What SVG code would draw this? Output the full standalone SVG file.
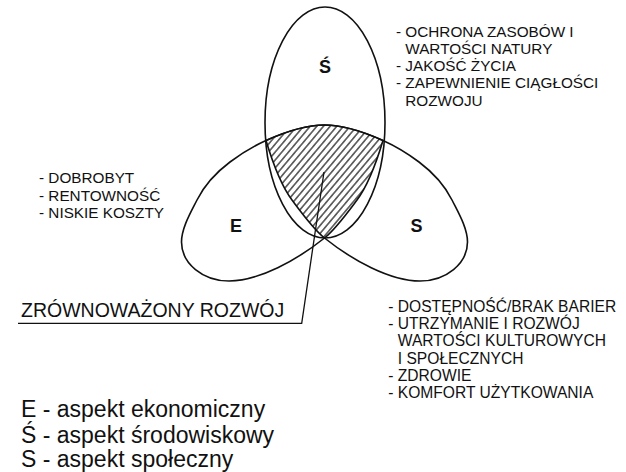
<svg xmlns="http://www.w3.org/2000/svg" width="626" height="472" viewBox="0 0 626 472">
  <style>
    .ell { fill: none; stroke: #111; stroke-width: 1.6; stroke-linejoin: round; }
    .lbl { font-family: "Liberation Sans", Arial, sans-serif; font-weight: bold; font-size: 18px; fill: #111; text-anchor: middle; }
    .lst { font-family: "Liberation Sans", Arial, sans-serif; font-size: 15.3px; fill: #111; }
    .lst2 { font-family: "Liberation Sans", Arial, sans-serif; font-size: 15.6px; fill: #111; }
    .leg { font-family: "Liberation Sans", Arial, sans-serif; font-size: 23px; fill: #111; }
    .zr { font-family: "Liberation Sans", Arial, sans-serif; font-size: 19.5px; fill: #111; }
    .ln { fill: none; stroke: #111; stroke-width: 1.3; }
  </style>
  <defs>
    <pattern id="hatch" patternUnits="userSpaceOnUse" width="5.1" height="10" patternTransform="rotate(40)">
      <line x1="2.55" y1="0" x2="2.55" y2="10" stroke="#111" stroke-width="1.15"/>
    </pattern>
    <clipPath id="clipEnv"><ellipse cx="325" cy="122.5" rx="60" ry="115.5"/></clipPath>
    <clipPath id="clipEco"><path d="M383,140.5 C363,131.5 344.5,125 324.5,125 C304.5,125 286,131.5 266,140.5 C254,145.9 242,153 230,162 C217,171.75 204,186 197,200 C191,212 181.5,228 181.5,242 C181.5,263.5 202.9,281 229,281 C259,281 297.2,259.9 324.5,238 C336.2,228.6 348.6,211.2 357,200 C367.8,185.6 377.6,158.5 383,140.5 Z"/></clipPath>
    <clipPath id="clipSoc"><path transform="matrix(-1,0,0,1,649,0)" d="M383,140.5 C363,131.5 344.5,125 324.5,125 C304.5,125 286,131.5 266,140.5 C254,145.9 242,153 230,162 C217,171.75 204,186 197,200 C191,212 181.5,228 181.5,242 C181.5,263.5 202.9,281 229,281 C259,281 297.2,259.9 324.5,238 C336.2,228.6 348.6,211.2 357,200 C367.8,185.6 377.6,158.5 383,140.5 Z"/></clipPath>
  </defs>
  <rect width="626" height="472" fill="#fff"/>

  <g id="hatched-intersection">
    <g clip-path="url(#clipEnv)">
      <g clip-path="url(#clipEco)">
        <g clip-path="url(#clipSoc)">
          <rect x="255" y="115" width="140" height="135" fill="url(#hatch)"/>
        </g>
      </g>
    </g>
  </g>

  <g id="node-srodowiskowy">
    <ellipse class="ell" cx="325" cy="122.5" rx="60" ry="115.5"/>
    <text class="lbl" x="325" y="73">Ś</text>
  </g>
  <g id="node-ekonomiczny">
    <path class="ell" d="M383,140.5 C363,131.5 344.5,125 324.5,125 C304.5,125 286,131.5 266,140.5 C254,145.9 242,153 230,162 C217,171.75 204,186 197,200 C191,212 181.5,228 181.5,242 C181.5,263.5 202.9,281 229,281 C259,281 297.2,259.9 324.5,238 C336.2,228.6 348.6,211.2 357,200 C367.8,185.6 377.6,158.5 383,140.5 Z"/>
    <text class="lbl" x="236" y="232">E</text>
  </g>
  <g id="node-spoleczny">
    <path class="ell" transform="matrix(-1,0,0,1,649,0)" d="M383,140.5 C363,131.5 344.5,125 324.5,125 C304.5,125 286,131.5 266,140.5 C254,145.9 242,153 230,162 C217,171.75 204,186 197,200 C191,212 181.5,228 181.5,242 C181.5,263.5 202.9,281 229,281 C259,281 297.2,259.9 324.5,238 C336.2,228.6 348.6,211.2 357,200 C367.8,185.6 377.6,158.5 383,140.5 Z"/>
    <text class="lbl" x="416.5" y="232">S</text>
  </g>

  <g id="connectors">
    <polyline class="ln" points="324,172 301.7,323.3 18,323.3"/>
  </g>

  <g id="label-zrownowazony">
    <text class="zr" x="21" y="316.7">ZRÓWNOWAŻONY ROZWÓJ</text>
  </g>

  <g id="list-srodowiskowy">
    <text class="lst" x="396" y="36.5">- OCHRONA ZASOBÓW I</text>
    <text class="lst" x="405.3" y="53.7">WARTOŚCI NATURY</text>
    <text class="lst" x="396" y="71">- JAKOŚĆ ŻYCIA</text>
    <text class="lst" x="396" y="88.2">- ZAPEWNIENIE CIĄGŁOŚCI</text>
    <text class="lst" x="405.3" y="105.5">ROZWOJU</text>
  </g>

  <g id="list-ekonomiczny">
    <text class="lst" x="39" y="183.3">- DOBROBYT</text>
    <text class="lst" x="39" y="200.8">- RENTOWNOŚĆ</text>
    <text class="lst" x="39" y="218.3">- NISKIE KOSZTY</text>
  </g>

  <g id="list-spoleczny">
    <text class="lst2" x="388.3" y="311.7">- DOSTĘPNOŚĆ/BRAK BARIER</text>
    <text class="lst2" x="388.3" y="329">- UTRZYMANIE I ROZWÓJ</text>
    <text class="lst2" x="397.8" y="346.3">WARTOŚCI KULTUROWYCH</text>
    <text class="lst2" x="397.8" y="363.6">I SPOŁECZNYCH</text>
    <text class="lst2" x="388.3" y="380.9">- ZDROWIE</text>
    <text class="lst2" x="388.3" y="398.2">- KOMFORT UŻYTKOWANIA</text>
  </g>

  <g id="legend">
    <text class="leg" x="21" y="417">E - aspekt ekonomiczny</text>
    <text class="leg" x="21" y="442.5">Ś - aspekt środowiskowy</text>
    <text class="leg" x="21" y="467">S - aspekt społeczny</text>
  </g>
</svg>
